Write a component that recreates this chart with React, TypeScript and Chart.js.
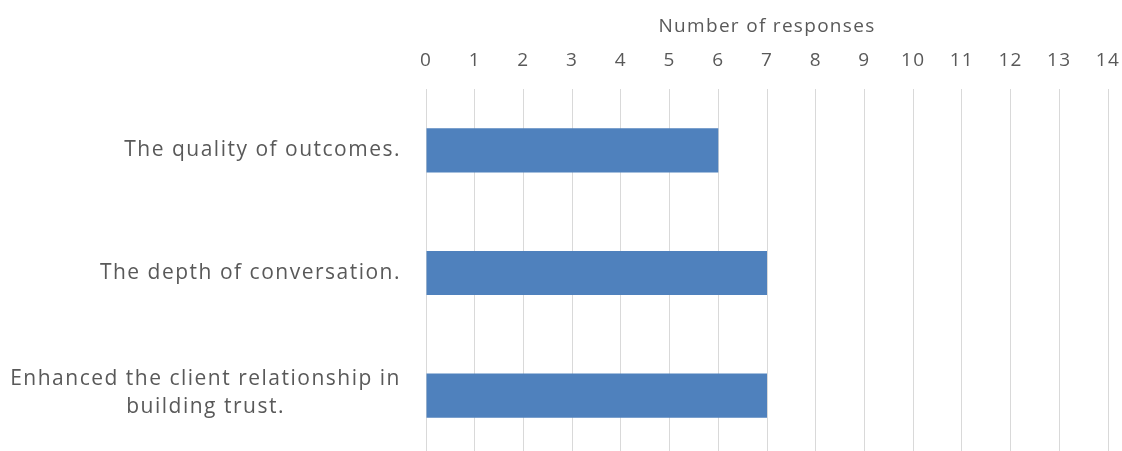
import React, { useEffect, useRef } from "react";
import { Chart, registerables } from "chart.js";

Chart.register(...registerables);

const categories: string[][] = [
  ["The quality of outcomes."],
  ["The depth of conversation."],
  ["Enhanced the client relationship in", "building trust."],
];
const responses: number[] = [6, 7, 7];
const xTicks: number[] = [0, 1, 2, 3, 4, 5, 6, 7, 8, 9, 10, 11, 12, 13, 14];
const axisTitle = "Number of responses";

const FONT = "'Open Sans', sans-serif";
const TEXT = "#595959";

const spacingPlugin = {
  id: "spacing",
  beforeUpdate(chart: any) {
    chart.ctx.letterSpacing = "1.3px";
  },
  beforeDraw(chart: any) {
    chart.ctx.letterSpacing = "1.3px";
  },
};

const labelPlugin = {
  id: "catLabels",
  afterDraw(chart: any) {
    const ctx = chart.ctx;
    const y = chart.scales.y;
    ctx.save();
    ctx.font = `21px ${FONT}`;
    ctx.letterSpacing = "1.5px";
    ctx.fillStyle = TEXT;
    ctx.textAlign = "center";
    ctx.textBaseline = "middle";
    const lh = 28;
    categories.forEach((lines, i) => {
      const cy = y.getPixelForValue(i);
      const w = Math.max(...lines.map((l) => ctx.measureText(l).width));
      const cx = 401 - w / 2;
      const start = cy - ((lines.length - 1) * lh) / 2 - (lines.length > 1 ? 3 : 0);
      lines.forEach((l, j) => ctx.fillText(l, cx, start + j * lh));
    });
    ctx.restore();
  },
};

export default function App() {
  const ref = useRef<HTMLCanvasElement>(null);
  useEffect(() => {
    if (!ref.current) return;
    const chart = new Chart(ref.current, {
      type: "bar",
      data: {
        labels: categories.map((c) => c.join(" ")),
        datasets: [
          {
            data: responses,
            backgroundColor: "#4f81bd",
            barPercentage: 0.36,
            categoryPercentage: 1,
          },
        ],
      },
      options: {
        indexAxis: "y",
        animation: false,
        responsive: false,
        layout: { padding: { left: 0, right: 14, top: 0, bottom: 0 } },
        plugins: { legend: { display: false }, tooltip: { enabled: false } },
        scales: {
          x: {
            position: "top",
            min: 0,
            max: 14,
            afterBuildTicks: (s: any) => {
              s.ticks = xTicks.map((v) => ({ value: v }));
            },
            afterFit: (s: any) => {
              s.height = 89;
              s.paddingLeft = 0;
              s.paddingRight = 0;
            },
            ticks: {
              color: TEXT,
              font: { family: FONT, size: 19 },
              padding: 17,
            },
            grid: { color: "#d9d9d9", lineWidth: 1, drawTicks: false },
            border: { display: false },
            title: {
              display: true,
              text: axisTitle,
              color: TEXT,
              font: { family: FONT, size: 19 },
              padding: { top: 15, bottom: 0 },
            },
          },
          y: {
            ticks: { display: false },
            grid: { display: false },
            border: { display: false },
            afterFit: (s: any) => {
              s.width = 426;
            },
          },
        },
      },
      plugins: [spacingPlugin, labelPlugin],
    });
    return () => chart.destroy();
  }, []);
  return (
    <div
      style={{
        position: "fixed",
        left: 0,
        top: 0,
        width: 1122,
        height: 451,
        overflow: "hidden",
        background: "#fff",
      }}
    >
      <canvas ref={ref} width={1122} height={457} style={{ display: "block" }} />
    </div>
  );
}
